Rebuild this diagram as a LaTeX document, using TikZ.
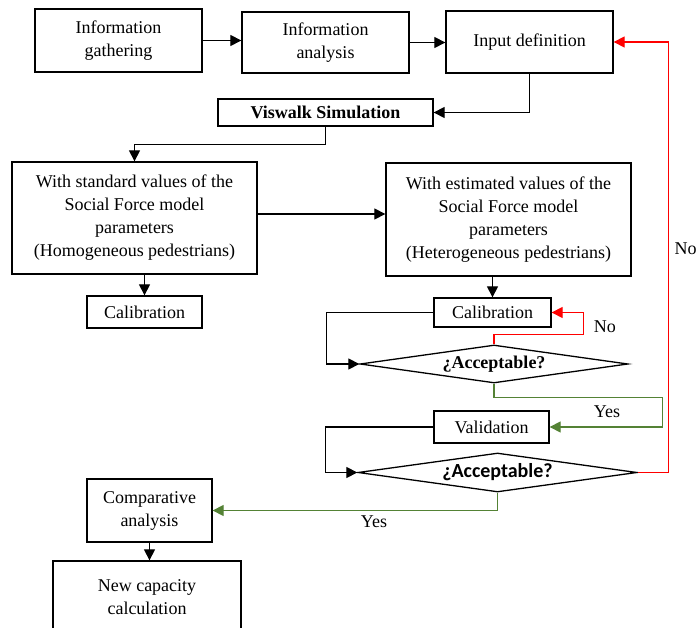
\documentclass[tikz,border=0pt]{standalone}
\usepackage{fontspec}
\setmainfont{Liberation Serif}
\newfontfamily\calibrifont{Carlito}
\usetikzlibrary{arrows.meta,shapes.geometric}
\definecolor{yesgreen}{RGB}{84,130,53}

\begin{document}
\begin{tikzpicture}[x=1pt,y=-1pt,line width=1.2pt,
    font=\fontsize{18}{23}\selectfont,
    box/.style={draw,line width=1.3pt,align=center,inner sep=0pt},
    decision/.style={draw,line width=1.3pt,diamond,aspect=7,inner sep=0pt},
    >={Triangle[length=11pt,width=11pt]}]
    \useasboundingbox (0,0) rectangle (697,628);
    \clip (0,0) rectangle (697,628);
    % top row
    \node[box,minimum width=167pt,minimum height=63pt] (gath) at (118.5,40.5) {Information\\gathering};
    \node[box,minimum width=167pt,minimum height=61pt] (anal) at (325.5,42.5) {Information\\analysis};
    \node[box,minimum width=167pt,minimum height=62pt] (inp) at (529.5,42) {Input definition};
    \node[box,minimum width=215pt,minimum height=27pt,font=\fontsize{18}{23}\selectfont\bfseries] (vis) at (325.5,112.5) {Viswalk Simulation};
    % the two ways
    \node[box,minimum width=245pt,minimum height=112pt] (std) at (134.5,218) {With standard values of the\\Social Force model\\parameters\\(Homogeneous pedestrians)};
    \node[box,minimum width=245pt,minimum height=113pt] (est) at (508.5,219.5) {With estimated values of the\\Social Force model\\parameters\\(Heterogeneous pedestrians)};
    \node[box,minimum width=115pt,minimum height=32pt] (calstd) at (144.5,312) {Calibration};
    \node[box,minimum width=117pt,minimum height=29pt] (calest) at (492.5,312.5) {Calibration};
    \node[decision,minimum width=268pt,minimum height=38pt,font=\fontsize{18}{23}\selectfont\bfseries] (acc1) at (494,364) {¿Acceptable?};
    \node[box,minimum width=115pt,minimum height=32pt] (val) at (491.5,427) {Validation};
    \node[decision,minimum width=279pt,minimum height=39pt,font=\fontsize{20}{24}\calibrifont\bfseries] (acc2) at (497.5,472.5) {¿Acceptable?};
    \node[box,minimum width=125pt,minimum height=63pt] (comp) at (149.5,510.5) {Comparative\\analysis};
    \node[box,minimum width=188pt,minimum height=72pt] (cap) at (147,597) {New capacity\\calculation};

    \draw[->] (gath.east) -- (gath.east -| anal.west);
    \draw[->] (anal.east) -- (anal.east -| inp.west);
    \draw[->] (inp.south) |- (vis.east);
    \draw[->] (vis.south) -- ++(0,18) -| (std.north);
    \draw[->] ([yshift=4pt]std.east) -- ([yshift=4pt]std.east -| est.west);
    \draw[->] (calstd.north |- std.south) -- (calstd.north);
    \draw[->] (calest.north |- est.south) -- (calest.north);
    \draw[->] (calest.west) -- ++(-107,0) |- (acc1.west);
    \draw[red,->] (acc1.north) -- ++(0,-10) -| ([xshift=32pt]calest.east) -- (calest.east);
    \node[anchor=west] (no1) at (590,327) {No};
    \draw[yesgreen,->] (acc1.south) -- ++(0,14) -| ([xshift=113pt]val.east) -- (val.east);
    \node (yes1) at (607,412) {Yes};
    \draw[->] (val.west) -- ++(-108,0) |- (acc2.west);
    \draw[red,->] (acc2.east) -- ++(31,0) |- (inp.east);
    \node[anchor=west,inner sep=0pt] (no2) at (674,249) {No};
    \draw[yesgreen,->] (acc2.south) |- (comp.east);
    \node (yes2) at (374,522) {Yes};
    \draw[->] (comp.south) -- (comp.south |- cap.north);
  \end{tikzpicture}
\end{document}
